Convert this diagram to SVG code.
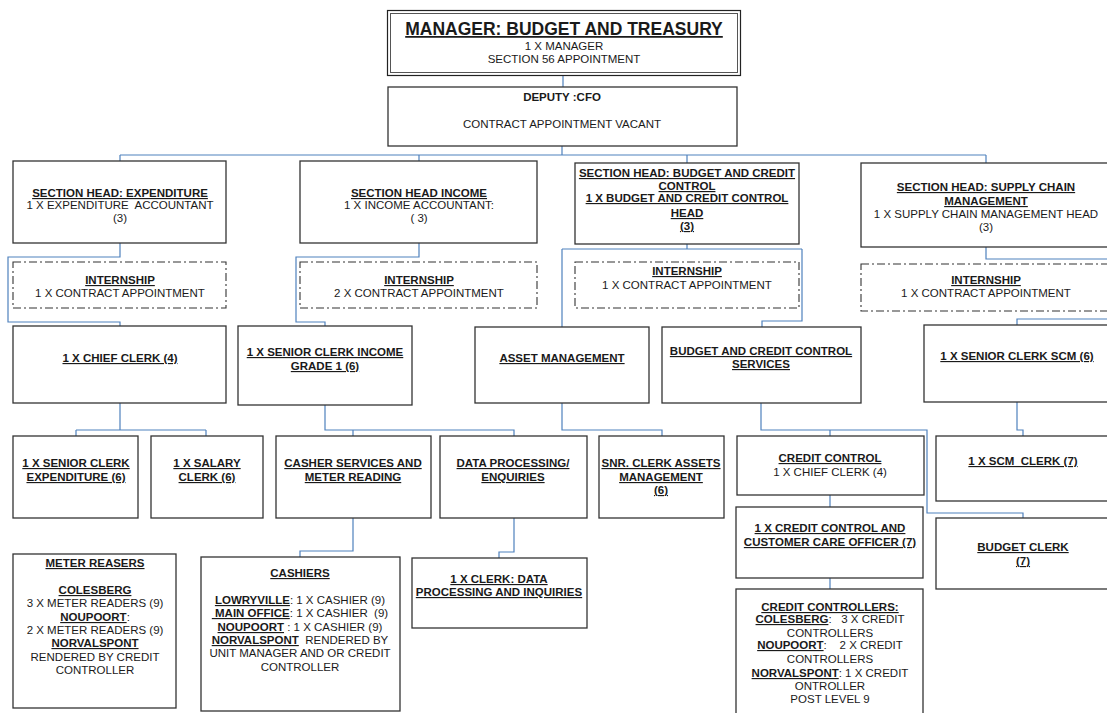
<svg xmlns="http://www.w3.org/2000/svg" width="1107" height="713" viewBox="0 0 1107 713">
  <style>
    .box { fill: #ffffff; stroke: #333333; stroke-width: 1.3; }
    .dash { fill: #ffffff; stroke: #333333; stroke-width: 1.1; stroke-dasharray: 8 3 2 3; }
    .link { fill: none; stroke: #4f81bd; stroke-width: 1.2; }
    text { font-family: "Liberation Sans", Arial, sans-serif; font-size: 11.5px; fill: #1a1a1a; text-anchor: middle; }
    .b { font-weight: bold; text-decoration: underline; }
    .title { font-size: 17.5px; font-weight: bold; text-decoration: underline; }
  </style>

  <rect width="1107" height="713" fill="#ffffff"/>

  <!-- reporting lines -->
  <g id="connectors">
    <path class="link" d="M563,75 V87"/>
    <path class="link" d="M562,146 V155"/>
    <path class="link" d="M120,155 H986 M120,155 V161 M419,155 V161 M687,155 V163 M986,155 V163"/>
    <path class="link" d="M120,243 V257 H8 V322 H120 V326"/>
    <path class="link" d="M419,243 V257 H296 V322 H325 V326"/>
    <path class="link" d="M687,244 V249 M562,249 H802 M562,249 V327 M802,249 V321 H762 V327"/>
    <path class="link" d="M986,247 V259 H1110 M1110,319 H1017 V325"/>
    <path class="link" d="M120,403 V430 M76,430 H206 M76,430 V436 M206,430 V436"/>
    <path class="link" d="M325,405 V430 H514 V436 M353,430 V436"/>
    <path class="link" d="M562,403 V430 H662 V436"/>
    <path class="link" d="M761,403 V430 H927 V513 H1023 V518 M830,430 V436"/>
    <path class="link" d="M1017,402 V430 H1023 V436"/>
    <path class="link" d="M830,495 V507 M830,578 V589"/>
    <path class="link" d="M353,518 V551 H300 V557"/>
    <path class="link" d="M514,518 V552 H499 V558"/>
  </g>

  <!-- management -->
  <g id="manager">
    <rect x="387.5" y="10.5" width="353" height="65" fill="#ffffff" stroke="#222222" stroke-width="1.2"/>
    <rect x="390.5" y="13.5" width="347" height="59" fill="none" stroke="#555555" stroke-width="1"/>
    <text class="title" x="564" y="35">MANAGER: BUDGET AND TREASURY</text>
    <text x="564" y="50">1 X MANAGER</text>
    <text x="564" y="63">SECTION 56 APPOINTMENT</text>
  </g>

  <g id="deputy-cfo">
    <rect class="box" x="388" y="87" width="349" height="59"/>
    <text x="562" y="101" font-weight="bold">DEPUTY :CFO</text>
    <text x="562" y="128">CONTRACT APPOINTMENT VACANT</text>
  </g>

  <!-- section heads -->
  <g id="head-expenditure">
    <rect class="box" x="13" y="161" width="213" height="82"/>
    <text class="b" x="120" y="197">SECTION HEAD: EXPENDITURE</text>
    <text x="120" y="209" xml:space="preserve">1 X EXPENDITURE  ACCOUNTANT</text>
    <text x="120" y="222">(3)</text>
  </g>

  <g id="head-income">
    <rect class="box" x="300" y="161" width="237" height="82"/>
    <text class="b" x="419" y="197">SECTION HEAD INCOME</text>
    <text x="419" y="209">1 X INCOME ACCOUNTANT:</text>
    <text x="419" y="222">( 3)</text>
  </g>

  <g id="head-budget-credit">
    <rect class="box" x="575" y="163" width="224" height="81"/>
    <text class="b" x="687" y="177">SECTION HEAD: BUDGET AND CREDIT</text>
    <text class="b" x="687" y="190">CONTROL</text>
    <text class="b" x="687" y="202">1 X BUDGET AND CREDIT CONTROL</text>
    <text class="b" x="687" y="217">HEAD</text>
    <text class="b" x="687" y="230">(3)</text>
  </g>

  <g id="head-supply-chain">
    <rect class="box" x="861" y="163" width="252" height="84"/>
    <text class="b" x="986" y="191">SECTION HEAD: SUPPLY CHAIN</text>
    <text class="b" x="986" y="205">MANAGEMENT</text>
    <text x="986" y="218">1 X SUPPLY CHAIN MANAGEMENT HEAD</text>
    <text x="986" y="231">(3)</text>
  </g>

  <!-- internships -->
  <g id="intern-expenditure">
    <rect class="dash" x="13" y="262" width="213" height="46"/>
    <text class="b" x="120" y="284">INTERNSHIP</text>
    <text x="120" y="297">1 X CONTRACT APPOINTMENT</text>
  </g>

  <g id="intern-income">
    <rect class="dash" x="300" y="262" width="237" height="46"/>
    <text class="b" x="419" y="284">INTERNSHIP</text>
    <text x="419" y="297">2 X CONTRACT APPOINTMENT</text>
  </g>

  <g id="intern-budget">
    <rect class="dash" x="575" y="262" width="224" height="46"/>
    <text class="b" x="687" y="275">INTERNSHIP</text>
    <text x="687" y="289">1 X CONTRACT APPOINTMENT</text>
  </g>

  <g id="intern-supply-chain">
    <rect class="dash" x="861" y="264" width="252" height="47"/>
    <text class="b" x="986" y="284">INTERNSHIP</text>
    <text x="986" y="297">1 X CONTRACT APPOINTMENT</text>
  </g>

  <!-- third level -->
  <g id="chief-clerk">
    <rect class="box" x="13" y="326" width="213" height="77"/>
    <text class="b" x="120" y="362">1 X CHIEF CLERK (4)</text>
  </g>

  <g id="senior-clerk-income">
    <rect class="box" x="238" y="326" width="174" height="79"/>
    <text class="b" x="325" y="356">1 X SENIOR CLERK INCOME</text>
    <text class="b" x="325" y="370">GRADE 1 (6)</text>
  </g>

  <g id="asset-management">
    <rect class="box" x="475" y="327" width="174" height="76"/>
    <text class="b" x="562" y="362">ASSET MANAGEMENT</text>
  </g>

  <g id="budget-credit-services">
    <rect class="box" x="662" y="327" width="199" height="76"/>
    <text class="b" x="761" y="355">BUDGET AND CREDIT CONTROL</text>
    <text class="b" x="761" y="368">SERVICES</text>
  </g>

  <g id="senior-clerk-scm">
    <rect class="box" x="924" y="325" width="190" height="77"/>
    <text class="b" x="1017" y="360">1 X SENIOR CLERK SCM (6)</text>
  </g>

  <!-- fourth level -->
  <g id="senior-clerk-expenditure">
    <rect class="box" x="13" y="436" width="125" height="82"/>
    <text class="b" x="76" y="467">1 X SENIOR CLERK</text>
    <text class="b" x="76" y="481">EXPENDITURE (6)</text>
  </g>

  <g id="salary-clerk">
    <rect class="box" x="151" y="436" width="112" height="82"/>
    <text class="b" x="207" y="467">1 X SALARY</text>
    <text class="b" x="207" y="481">CLERK (6)</text>
  </g>

  <g id="casher-services">
    <rect class="box" x="276" y="436" width="155" height="82"/>
    <text class="b" x="353" y="467">CASHER SERVICES AND</text>
    <text class="b" x="353" y="481">METER READING</text>
  </g>

  <g id="data-processing">
    <rect class="box" x="440" y="436" width="147" height="82"/>
    <text class="b" x="513" y="467">DATA PROCESSING/</text>
    <text class="b" x="513" y="481">ENQUIRIES</text>
  </g>

  <g id="snr-clerk-assets">
    <rect class="box" x="599" y="436" width="125" height="82"/>
    <text class="b" x="661" y="467">SNR. CLERK ASSETS</text>
    <text class="b" x="661" y="481">MANAGEMENT</text>
    <text class="b" x="661" y="494">(6)</text>
  </g>

  <g id="credit-control">
    <rect class="box" x="737" y="436" width="187" height="59"/>
    <text class="b" x="830" y="462">CREDIT CONTROL</text>
    <text x="830" y="476">1 X CHIEF CLERK (4)</text>
  </g>

  <g id="scm-clerk">
    <rect class="box" x="936" y="436" width="178" height="65"/>
    <text class="b" x="1023" y="465" xml:space="preserve">1 X SCM  CLERK (7)</text>
  </g>

  <!-- fifth level -->
  <g id="customer-care-officer">
    <rect class="box" x="736" y="507" width="187" height="71"/>
    <text class="b" x="830" y="532">1 X CREDIT CONTROL AND</text>
    <text class="b" x="830" y="546">CUSTOMER CARE OFFICER (7)</text>
  </g>

  <g id="budget-clerk">
    <rect class="box" x="936" y="518" width="178" height="71"/>
    <text class="b" x="1023" y="551">BUDGET CLERK</text>
    <text class="b" x="1023" y="565">(7)</text>
  </g>

  <!-- staff detail -->
  <g id="meter-readers">
    <rect class="box" x="13" y="554" width="163" height="154"/>
    <text class="b" x="95" y="567">METER REASERS</text>
    <text class="b" x="95" y="594">COLESBERG</text>
    <text x="95" y="607">3 X METER READERS (9)</text>
    <text x="95" y="621"><tspan class="b">NOUPOORT</tspan>:</text>
    <text x="95" y="634">2 X METER READERS (9)</text>
    <text class="b" x="95" y="647">NORVALSPONT</text>
    <text x="95" y="661">RENDERED BY CREDIT</text>
    <text x="95" y="674">CONTROLLER</text>
  </g>

  <g id="cashiers">
    <rect class="box" x="201" y="557" width="199" height="154"/>
    <text class="b" x="300" y="577">CASHIERS</text>
    <text x="300" y="604"><tspan class="b">LOWRYVILLE</tspan>: 1 X CASHIER (9)</text>
    <text x="300" y="617" xml:space="preserve"><tspan class="b"> MAIN OFFICE</tspan>: 1 X CASHIER  (9)</text>
    <text x="300" y="631"><tspan class="b">NOUPOORT</tspan> : 1 X CASHIER (9)</text>
    <text x="300" y="644" xml:space="preserve"><tspan class="b">NORVALSPONT</tspan>  RENDERED BY</text>
    <text x="300" y="657">UNIT MANAGER AND OR CREDIT</text>
    <text x="300" y="671">CONTROLLER</text>
  </g>

  <g id="clerk-data-processing">
    <rect class="box" x="412" y="558" width="175" height="70"/>
    <text class="b" x="499" y="583">1 X CLERK: DATA</text>
    <text class="b" x="499" y="596">PROCESSING AND INQUIRIES</text>
  </g>

  <g id="credit-controllers">
    <rect class="box" x="736" y="589" width="187" height="130"/>
    <text class="b" x="830" y="611">CREDIT CONTROLLERS:</text>
    <text x="830" y="623" xml:space="preserve"><tspan class="b">COLESBERG</tspan>:   3 X CREDIT</text>
    <text x="830" y="637">CONTROLLERS</text>
    <text x="830" y="649" xml:space="preserve"><tspan class="b">NOUPOORT</tspan>:    2 X CREDIT</text>
    <text x="830" y="663">CONTROLLERS</text>
    <text x="830" y="677"><tspan class="b">NORVALSPONT</tspan>: 1 X CREDIT</text>
    <text x="830" y="690">ONTROLLER</text>
    <text x="830" y="703">POST LEVEL 9</text>
  </g>
</svg>
